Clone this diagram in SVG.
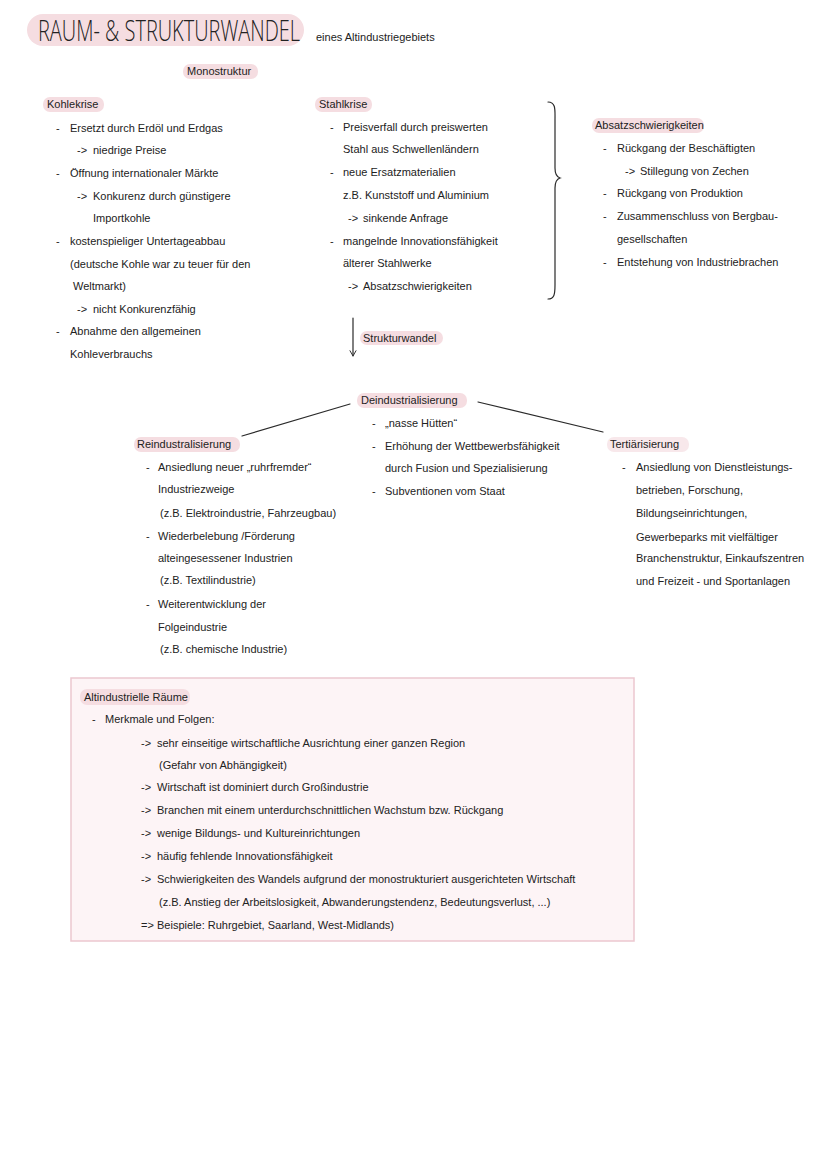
<svg xmlns="http://www.w3.org/2000/svg" width="828" height="1171" viewBox="0 0 828 1171">
<style>
.t{font-family:"Liberation Sans",Arial,sans-serif;font-size:11px;fill:#222}
.hl{fill:#f5dde1}
.hl2{fill:#f8e8eb}
.con{stroke:#2a2a2a;stroke-width:1.2;fill:none;stroke-linecap:round}
</style>
<defs>
<marker id="arr" viewBox="0 0 10 10" refX="9" refY="5" markerWidth="8" markerHeight="8" orient="auto" markerUnits="userSpaceOnUse">
<path d="M2,1 L9,5 L2,9" fill="none" stroke="#2a2a2a" stroke-width="1.2"/>
</marker>
</defs>
<rect width="828" height="1171" fill="#ffffff"/>

<g id="title">
<rect class="hl" x="27" y="14" width="277" height="32" rx="16"/>
<text transform="translate(38,41) scale(1,1.45)" x="0" y="0" font-family="'Open Sans',Lato,sans-serif" font-weight="300" font-size="20" fill="#222" textLength="262" lengthAdjust="spacingAndGlyphs">RAUM- &amp; STRUKTURWANDEL</text>
<text class="t" x="316" y="41">eines Altindustriegebiets</text>
</g>

<g id="monostruktur">
<rect class="hl" x="183" y="64" width="75" height="15" rx="7"/>
<text class="t" x="187" y="75">Monostruktur</text>
</g>

<g id="kohlekrise">
<rect class="hl" x="43" y="97" width="61" height="15" rx="7"/>
<text class="t" x="47" y="108">Kohlekrise</text>
<text class="t" x="56" y="132">-</text><text class="t" x="70" y="132">Ersetzt durch Erdöl und Erdgas</text>
<text class="t" x="77" y="154">-&gt;</text><text class="t" x="93" y="154">niedrige Preise</text>
<text class="t" x="56" y="177">-</text><text class="t" x="70" y="177">Öffnung internationaler Märkte</text>
<text class="t" x="77" y="200">-&gt;</text><text class="t" x="93" y="200">Konkurenz durch günstigere</text>
<text class="t" x="93" y="222">Importkohle</text>
<text class="t" x="56" y="245">-</text><text class="t" x="70" y="245">kostenspieliger Untertageabbau</text>
<text class="t" x="70" y="268">(deutsche Kohle war zu teuer für den</text>
<text class="t" x="73" y="290">Weltmarkt)</text>
<text class="t" x="77" y="313">-&gt;</text><text class="t" x="93" y="313">nicht Konkurenzfähig</text>
<text class="t" x="56" y="335">-</text><text class="t" x="70" y="335">Abnahme den allgemeinen</text>
<text class="t" x="70" y="358">Kohleverbrauchs</text>
</g>

<g id="stahlkrise">
<rect class="hl" x="315" y="97" width="57" height="15" rx="7"/>
<text class="t" x="319" y="108">Stahlkrise</text>
<text class="t" x="330" y="131">-</text><text class="t" x="343" y="131">Preisverfall durch preiswerten</text>
<text class="t" x="343" y="153">Stahl aus Schwellenländern</text>
<text class="t" x="330" y="176">-</text><text class="t" x="343" y="176">neue Ersatzmaterialien</text>
<text class="t" x="343" y="199">z.B. Kunststoff und Aluminium</text>
<text class="t" x="348" y="222">-&gt;</text><text class="t" x="363" y="222">sinkende Anfrage</text>
<text class="t" x="330" y="245">-</text><text class="t" x="343" y="245">mangelnde Innovationsfähigkeit</text>
<text class="t" x="343" y="267">älterer Stahlwerke</text>
<text class="t" x="348" y="290">-&gt;</text><text class="t" x="363" y="290">Absatzschwierigkeiten</text>
</g>

<g id="absatzschwierigkeiten">
<rect class="hl" x="592" y="118" width="112" height="15" rx="7"/>
<text class="t" x="595" y="129">Absatzschwierigkeiten</text>
<text class="t" x="603" y="152">-</text><text class="t" x="617" y="152">Rückgang der Beschäftigten</text>
<text class="t" x="625" y="175">-&gt;</text><text class="t" x="640" y="175">Stillegung von Zechen</text>
<text class="t" x="603" y="197">-</text><text class="t" x="617" y="197">Rückgang von Produktion</text>
<text class="t" x="603" y="220">-</text><text class="t" x="617" y="220">Zusammenschluss von Bergbau-</text>
<text class="t" x="617" y="243">gesellschaften</text>
<text class="t" x="603" y="266">-</text><text class="t" x="617" y="266">Entstehung von Industriebrachen</text>
</g>

<g id="strukturwandel">
<rect class="hl" x="360" y="331" width="83" height="14" rx="7"/>
<text class="t" x="363" y="342">Strukturwandel</text>
</g>

<g id="deindustrialisierung">
<rect class="hl" x="357" y="393" width="110" height="15" rx="7"/>
<text class="t" x="361" y="404">Deindustrialisierung</text>
<text class="t" x="372" y="427">-</text><text class="t" x="385" y="427">„nasse Hütten“</text>
<text class="t" x="372" y="450">-</text><text class="t" x="385" y="450">Erhöhung der Wettbewerbsfähigkeit</text>
<text class="t" x="385" y="472">durch Fusion und Spezialisierung</text>
<text class="t" x="372" y="495">-</text><text class="t" x="385" y="495">Subventionen vom Staat</text>
</g>

<g id="reindustrialisierung">
<rect class="hl" x="134" y="437" width="106" height="15" rx="7"/>
<text class="t" x="137" y="448">Reindustralisierung</text>
<text class="t" x="146" y="471">-</text><text class="t" x="158" y="471">Ansiedlung neuer „ruhrfremder“</text>
<text class="t" x="158" y="493">Industriezweige</text>
<text class="t" x="160" y="517">(z.B. Elektroindustrie, Fahrzeugbau)</text>
<text class="t" x="146" y="540">-</text><text class="t" x="158" y="540">Wiederbelebung /Förderung</text>
<text class="t" x="158" y="562">alteingesessener Industrien</text>
<text class="t" x="160" y="584">(z.B. Textilindustrie)</text>
<text class="t" x="146" y="608">-</text><text class="t" x="158" y="608">Weiterentwicklung der</text>
<text class="t" x="158" y="631">Folgeindustrie</text>
<text class="t" x="160" y="653">(z.B. chemische Industrie)</text>
</g>

<g id="tertiaerisierung">
<rect class="hl2" x="607" y="437" width="82" height="15" rx="7"/>
<text class="t" x="610" y="448">Tertiärisierung</text>
<text class="t" x="622" y="471">-</text><text class="t" x="636" y="471">Ansiedlung von Dienstleistungs-</text>
<text class="t" x="636" y="494">betrieben, Forschung,</text>
<text class="t" x="636" y="517">Bildungseinrichtungen,</text>
<text class="t" x="636" y="541">Gewerbeparks mit vielfältiger</text>
<text class="t" x="636" y="562">Branchenstruktur, Einkaufszentren</text>
<text class="t" x="636" y="585">und Freizeit - und Sportanlagen</text>
</g>

<g id="altindustrielle-raeume">
<rect x="71" y="678" width="563" height="263" fill="#fdf4f6" stroke="#ecc7cf" stroke-width="1.5"/>
<rect class="hl" x="80" y="689" width="110" height="16" rx="7"/>
<text class="t" x="84" y="701">Altindustrielle Räume</text>
<text class="t" x="92" y="723">-</text><text class="t" x="105" y="723">Merkmale und Folgen:</text>
<text class="t" x="141" y="747">-&gt;</text><text class="t" x="157" y="747">sehr einseitige wirtschaftliche Ausrichtung einer ganzen Region</text>
<text class="t" x="159" y="769">(Gefahr von Abhängigkeit)</text>
<text class="t" x="141" y="791">-&gt;</text><text class="t" x="157" y="791">Wirtschaft ist dominiert durch Großindustrie</text>
<text class="t" x="141" y="814">-&gt;</text><text class="t" x="157" y="814">Branchen mit einem unterdurchschnittlichen Wachstum bzw. Rückgang</text>
<text class="t" x="141" y="837">-&gt;</text><text class="t" x="157" y="837">wenige Bildungs- und Kultureinrichtungen</text>
<text class="t" x="141" y="860">-&gt;</text><text class="t" x="157" y="860">häufig fehlende Innovationsfähigkeit</text>
<text class="t" x="141" y="883">-&gt;</text><text class="t" x="157" y="883">Schwierigkeiten des Wandels aufgrund der monostrukturiert ausgerichteten Wirtschaft</text>
<text class="t" x="159" y="906">(z.B. Anstieg der Arbeitslosigkeit, Abwanderungstendenz, Bedeutungsverlust, ...)</text>
<text class="t" x="141" y="929">=&gt;</text><text class="t" x="157" y="929">Beispiele:  Ruhrgebiet, Saarland, West-Midlands)</text>
</g>

<g id="connectors">
<path class="con" d="M548,102 C556,102 555,110 555,120 L555,168 C555,174 557,177 560,178 C557,179 555,182 555,188 L555,285 C555,295 554,299 548,299"/>
<line class="con" x1="353" y1="318" x2="353" y2="356" marker-end="url(#arr)"/>
<line class="con" x1="350" y1="404" x2="242" y2="436"/>
<line class="con" x1="478" y1="402" x2="603" y2="432"/>
</g>
</svg>
